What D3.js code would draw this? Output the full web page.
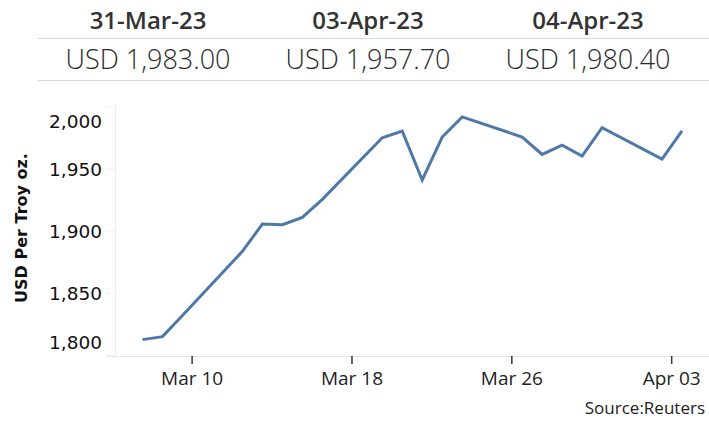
<!DOCTYPE html>
<html>
<head>
<meta charset="utf-8">
<script src="https://cdn.jsdelivr.net/npm/d3@7"></script>
<style>
  body { margin: 0; background: #fff; }
  svg { display: block; }
</style>
</head>
<body>
<svg id="chart"></svg>
<script>
// header table
const headDates = ["31-Mar-23", "03-Apr-23", "04-Apr-23"];
const headValues = [1983.00, 1957.70, 1980.40];

// gold price series (trading days only)
const dates = ["2023-03-08", "2023-03-09", "2023-03-10", "2023-03-13", "2023-03-14", "2023-03-15",
  "2023-03-16", "2023-03-17", "2023-03-20", "2023-03-21", "2023-03-22", "2023-03-23", "2023-03-24",
  "2023-03-27", "2023-03-28", "2023-03-29", "2023-03-30", "2023-03-31", "2023-04-03", "2023-04-04"];
const prices = [1812.2, 1814.6, 1831.7, 1883.3, 1905.3, 1904.8,
  1910.6, 1925.2, 1974.8, 1980.2, 1940.8, 1975.4, 1991.6,
  1975.4, 1961.4, 1968.8, 1960.1, 1983.0, 1957.7, 1980.4];

const yTicks = [1800, 1850, 1900, 1950, 2000];
const xTicks = ["2023-03-10", "2023-03-18", "2023-03-26", "2023-04-03"];

const width = 709, height = 421;
const parse = d3.timeParse("%Y-%m-%d");
const data = dates.map((d, i) => ({ date: parse(d), value: prices[i] }));

const svg = d3.select("#chart").attr("width", width).attr("height", height);

// ---- header table ----
const colX = d3.scaleBand().domain(headDates).range([38, 698]);
svg.append("line").attr("x1", 38).attr("x2", 709).attr("y1", 38.5).attr("y2", 38.5)
  .attr("stroke", "#d4d4d4").attr("stroke-width", 1);
svg.append("line").attr("x1", 38).attr("x2", 709).attr("y1", 80.5).attr("y2", 80.5)
  .attr("stroke", "#d4d4d4").attr("stroke-width", 1);

svg.selectAll(".hdate").data(headDates).enter().append("text")
  .attr("class", "hdate")
  .attr("x", d => colX(d) + colX.bandwidth() / 2)
  .attr("y", 29)
  .attr("text-anchor", "middle")
  .style("font-family", "Open Sans")
  .style("font-weight", "600")
  .style("font-size", "24px")
  .style("fill", "#333")
  .text(d => d);

const fmtUsd = d3.format(",.2f");
svg.selectAll(".hval").data(headValues).enter().append("text")
  .attr("class", "hval")
  .attr("x", (d, i) => colX(headDates[i]) + colX.bandwidth() / 2)
  .attr("y", 69)
  .attr("text-anchor", "middle")
  .style("font-family", "Open Sans")
  .style("font-weight", "300")
  .style("font-size", "27px")
  .style("fill", "#2a2a2a")
  .text(d => "USD " + fmtUsd(d));

// ---- line chart ----
const plotTop = 104, plotBottom = 356, plotLeft = 115;

const x = d3.scaleTime()
  .domain([parse("2023-03-08"), parse("2023-04-04")])
  .range([142.5, 682]);

const y = d3.scaleLinear()
  .domain([1799, 2002])
  .range([plotBottom, plotTop]);

// baseline and left axis line
svg.append("line").attr("x1", 106).attr("x2", width).attr("y1", plotBottom + 0.5).attr("y2", plotBottom + 0.5)
  .attr("stroke", "#e6e6e6");
svg.append("line").attr("x1", plotLeft + 0.5).attr("x2", plotLeft + 0.5).attr("y1", plotTop).attr("y2", plotBottom)
  .attr("stroke", "#eeeeee");

// y axis
const yAxisG = svg.append("g")
  .attr("transform", `translate(${plotLeft},0)`)
  .call(d3.axisLeft(y).tickValues(yTicks).tickFormat(d3.format(",")).tickSize(9).tickPadding(4));
yAxisG.select(".domain").remove();
yAxisG.selectAll(".tick line").attr("stroke", "#eeeeee");
yAxisG.selectAll(".tick text")
  .style("font-family", "DejaVu Sans")
  .style("font-size", "18.5px")
  .style("fill", "#111")
  .attr("dy", "0.36em")
  .attr("y", d => {
    // keep end labels inside the pane
    const p = y(d);
    return Math.max(plotTop + 17, Math.min(plotBottom - 14, p)) - p;
  });

// x axis (ticks sit half a day after the point dates)
const xAxisG = svg.append("g")
  .attr("transform", `translate(0,${plotBottom})`)
  .call(d3.axisBottom(x)
    .tickValues(xTicks.map(d => d3.timeHour.offset(parse(d), 11)))
    .tickFormat(d3.timeFormat("%b %d"))
    .tickSize(8).tickPadding(8));
xAxisG.select(".domain").remove();
xAxisG.selectAll(".tick line").attr("stroke", "#333").attr("stroke-width", 1.5);
xAxisG.selectAll(".tick text")
  .style("font-family", "Open Sans")
  .style("font-size", "19px")
  .style("fill", "#222");

// y axis title
svg.append("text")
  .attr("transform", "translate(27,228) rotate(-90)")
  .attr("text-anchor", "middle")
  .style("font-family", "DejaVu Sans")
  .style("font-weight", "700")
  .style("font-size", "16px")
  .style("fill", "#111")
  .text("USD Per Troy oz.");

// the price line
const line = d3.line().x(d => x(d.date)).y(d => y(d.value));
svg.append("path")
  .datum(data)
  .attr("fill", "none")
  .attr("stroke", "#4e79a7")
  .attr("stroke-width", 3)
  .attr("stroke-linejoin", "miter")
  .attr("d", line);

// source note (kept fully inside the frame)
svg.append("text")
  .attr("x", 705)
  .attr("y", 414)
  .attr("text-anchor", "end")
  .style("font-family", "Open Sans")
  .style("font-size", "17px")
  .style("fill", "#222")
  .text("Source:Reuters");
</script>
</body>
</html>
